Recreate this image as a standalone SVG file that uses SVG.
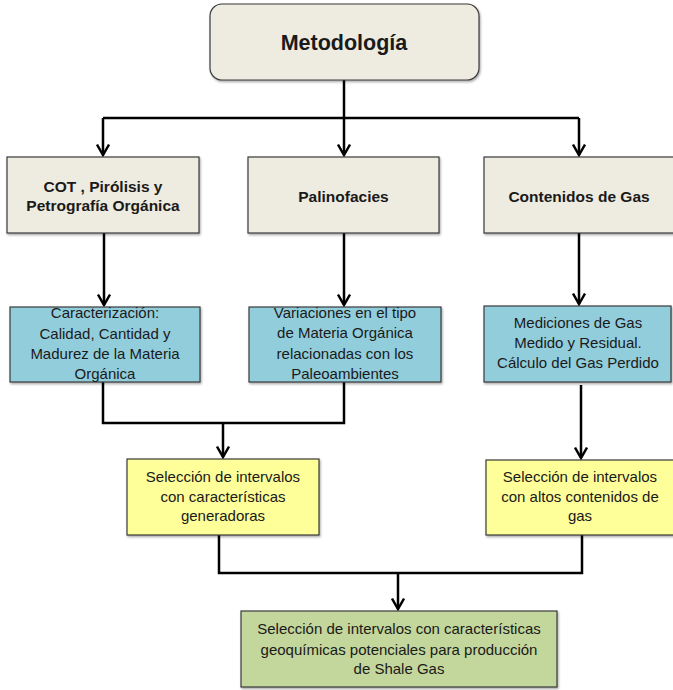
<svg xmlns="http://www.w3.org/2000/svg" width="673" height="690" viewBox="0 0 673 690">
<style>
.box{stroke:#3a3a3a;stroke-width:1.2;filter:url(#sh)}
.beige{fill:#EEEBE0}
.blue{fill:#92CDDC}
.yellow{fill:#FFFF99}
.green{fill:#C3D69B}
text{font-family:"Liberation Sans",Arial,sans-serif;fill:#1a1a1a;text-anchor:middle}
.t{font-size:15px}
.b{font-size:15.5px;font-weight:bold}
.title{font-size:21.5px;font-weight:bold}
.c{fill:none;stroke:#000;stroke-width:2.5}
.a{marker-end:url(#arr)}
</style>
<defs>
<filter id="sh" x="-5%" y="-5%" width="115%" height="120%">
<feDropShadow dx="1" dy="1.5" stdDeviation="0.8" flood-color="#000" flood-opacity="0.35"/>
</filter>
<marker id="arr" viewBox="0 0 14 14" refX="12" refY="7" markerWidth="14" markerHeight="14" orient="auto" markerUnits="userSpaceOnUse">
<path d="M1.5,1 L12,7 L1.5,13" fill="none" stroke="#000" stroke-width="2.5"/>
</marker>
</defs>
<g id="connectors">
<path class="c" d="M103,118 H579"/>
<path class="c a" d="M344,80 V155"/>
<path class="c a" d="M103,118 V155"/>
<path class="c a" d="M579,118 V155"/>
<path class="c a" d="M104,233 V305"/>
<path class="c a" d="M344,233 V305"/>
<path class="c a" d="M579,233 V304"/>
<path class="c" d="M103,382 V423 H344 V382"/>
<path class="c a" d="M223,423 V457"/>
<path class="c a" d="M581,385 V458"/>
<path class="c" d="M219,535 V573 H582 V535"/>
<path class="c a" d="M398,573 V609"/>
</g>
<g id="metodologia">
<rect class="box beige" x="210" y="4" width="269" height="76" rx="12"/>
<text class="title" x="344" y="50">Metodología</text>
</g>
<g id="cot">
<rect class="box beige" x="7" y="157" width="192" height="76"/>
<text class="b" x="103" y="192">COT , Pirólisis y</text>
<text class="b" x="103" y="211">Petrografía Orgánica</text>
</g>
<g id="palinofacies">
<rect class="box beige" x="248" y="157" width="191" height="76"/>
<text class="b" x="343.5" y="202">Palinofacies</text>
</g>
<g id="contenidos">
<rect class="box beige" x="484" y="157" width="200" height="76"/>
<text class="b" x="579" y="202">Contenidos de Gas</text>
</g>
<g id="caracterizacion">
<rect class="box blue" x="10" y="307" width="190" height="75"/>
<text class="t" x="105" y="318">Caracterización:</text>
<text class="t" x="105" y="339">Calidad, Cantidad y</text>
<text class="t" x="105" y="359">Madurez de la Materia</text>
<text class="t" x="105" y="379">Orgánica</text>
</g>
<g id="variaciones">
<rect class="box blue" x="249" y="307" width="192" height="75"/>
<text class="t" x="345" y="318">Variaciones en el tipo</text>
<text class="t" x="345" y="338">de Materia Orgánica</text>
<text class="t" x="345" y="359">relacionadas con los</text>
<text class="t" x="345" y="379">Paleoambientes</text>
</g>
<g id="mediciones">
<rect class="box blue" x="484" y="306" width="187" height="76"/>
<text class="t" x="578" y="328">Mediciones de Gas</text>
<text class="t" x="578" y="348">Medido y Residual.</text>
<text class="t" x="578" y="368">Cálculo del Gas Perdido</text>
</g>
<g id="seleccion-generadoras">
<rect class="box yellow" x="127" y="459" width="192" height="76"/>
<text class="t" x="223" y="482">Selección de intervalos</text>
<text class="t" x="223" y="502">con características</text>
<text class="t" x="223" y="521">generadoras</text>
</g>
<g id="seleccion-gas">
<rect class="box yellow" x="486" y="460" width="190" height="75"/>
<text class="t" x="580" y="482">Selección de intervalos</text>
<text class="t" x="580" y="502">con altos contenidos de</text>
<text class="t" x="580" y="521">gas</text>
</g>
<g id="seleccion-shale">
<rect class="box green" x="241" y="611" width="316" height="76"/>
<text class="t" x="399" y="634">Selección de intervalos con características</text>
<text class="t" x="399" y="655">geoquímicas potenciales para producción</text>
<text class="t" x="399" y="674">de Shale Gas</text>
</g>
</svg>
